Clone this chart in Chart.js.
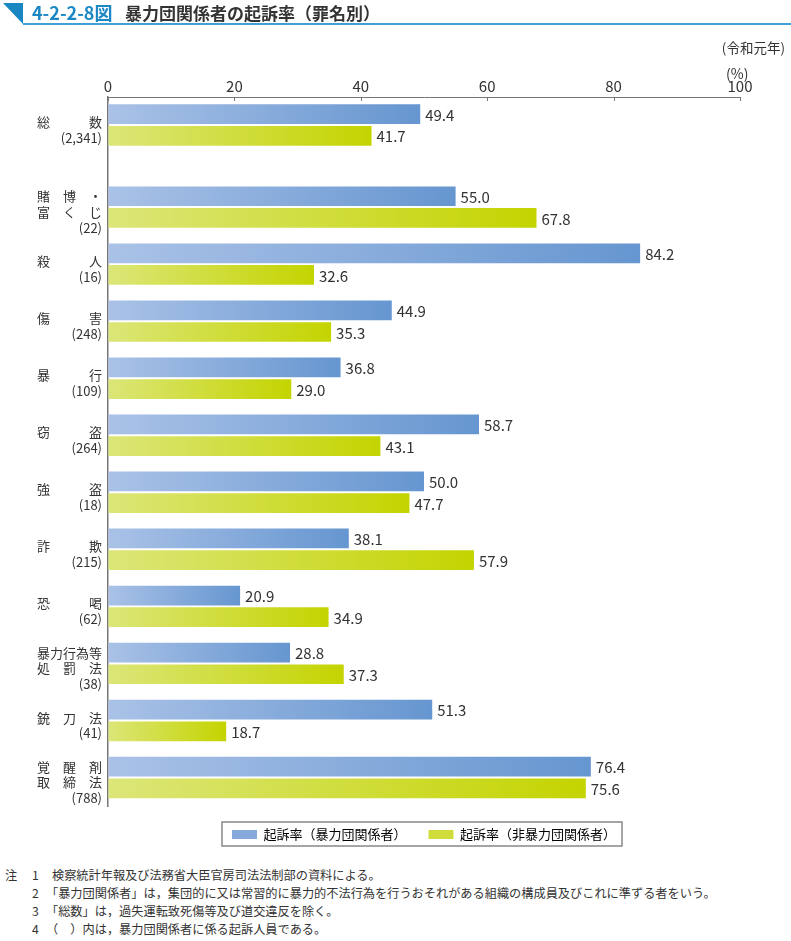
<!DOCTYPE html>
<html lang="ja">
<head>
<meta charset="utf-8">
<title>4-2-2-8図 暴力団関係者の起訴率（罪名別）</title>
<script src="https://cdn.jsdelivr.net/npm/chart.js@4.4.1/dist/chart.umd.min.js"></script>
<style>
  body { margin: 0; background: #fff; font-family: 'Noto Sans CJK JP', sans-serif; color: #333; }
  #page { position: relative; width: 791px; height: 941px; overflow: hidden; }
  #chart { position: absolute; left: 0; top: 0; }
  .tri { position: absolute; left: 3px; top: 3px; width: 20px; height: 21px; background: #1a86c2;
         clip-path: polygon(0 0, 100% 0, 100% 100%); }
  .rule { position: absolute; left: 23px; right: 0; top: 23px; height: 2px; background: #3d9fd5; }
  .fignum { position: absolute; left: 32px; top: 3px; font-size: 18px; line-height: 1; font-weight: bold; color: #1b88c5; }
  .title { position: absolute; left: 125px; top: 4px; font-size: 17px; line-height: 1; font-weight: bold; color: #333; }
  .year { position: absolute; right: 6px; top: 41px; font-size: 13.5px; line-height: 1; }
  .unit { position: absolute; left: 726px; top: 66px; font-size: 14px; line-height: 1; }
  .notes { position: absolute; left: 0; top: 866px; font-size: 12.2px; line-height: 18px; }
  .notes div { position: relative; height: 18px; white-space: nowrap; }
  .notes .mk { position: absolute; left: 5px; }
  .notes .no { position: absolute; left: 32px; }
  .notes .tx { position: absolute; left: 52px; }
  .notes .br { left: 46px; }
</style>
</head>
<body>
<div id="page">
  <canvas id="chart" width="791" height="851"></canvas>
  <div class="tri"></div>
  <div class="rule"></div>
  <div class="fignum">4-2-2-8図</div>
  <div class="title">暴力団関係者の起訴率（罪名別）</div>
  <div class="year">(令和元年)</div>
  <div class="unit">(%)</div>
  <div class="notes">
    <div><span class="mk">注</span><span class="no">1</span><span class="tx">検察統計年報及び法務省大臣官房司法法制部の資料による。</span></div>
    <div><span class="no">2</span><span class="tx br">「暴力団関係者」は，集団的に又は常習的に暴力的不法行為を行うおそれがある組織の構成員及びこれに準ずる者をいう。</span></div>
    <div><span class="no">3</span><span class="tx br">「総数」は，過失運転致死傷等及び道交違反を除く。</span></div>
    <div><span class="no">4</span><span class="tx br">（　）内は，暴力団関係者に係る起訴人員である。</span></div>
  </div>
</div>
<script>
const crimeNames = [
    ['総　　　数'], ['賭　博　・', '富　く　じ'], ['殺　　　人'], ['傷　　　害'],
    ['暴　　　行'], ['窃　　　盗'], ['強　　　盗'], ['詐　　　欺'], ['恐　　　喝'],
    ['暴力行為等', '処　罰　法'], ['銃　刀　法'], ['覚　醒　剤', '取　締　法']
];
const suspectCounts = ['2,341', '22', '16', '248', '109', '264', '18', '215', '62', '38', '41', '788'];
const yakuzaRates = [49.4, 55.0, 84.2, 44.9, 36.8, 58.7, 50.0, 38.1, 20.9, 28.8, 51.3, 76.4];
const otherRates = [41.7, 67.8, 32.6, 35.3, 29.0, 43.1, 47.7, 57.9, 34.9, 37.3, 18.7, 75.6];
const seriesNames = ['起訴率（暴力団関係者）', '起訴率（非暴力団関係者）'];
const xTicks = [0, 20, 40, 60, 80, 100];

// 総数 sits a bit apart from the other rows
const firstGap = 0.44;
const rowPos = crimeNames.map((n, i) => i === 0 ? 0 : i + firstGap);
const rowLabels = crimeNames.map((n, i) => n.concat('(' + suspectCounts[i] + ')'));

const swatch = ['#86a9dc', '#cfdc3c'];

function barFill(light, dark) {
    return function(c) {
        if (c.type !== 'data' || !c.chart.chartArea) return dark;
        const xs = c.chart.scales.x;
        const x0 = xs.getPixelForValue(0);
        const x1 = xs.getPixelForValue(c.parsed.x);
        const g = c.chart.ctx.createLinearGradient(x0, 0, x1, 0);
        g.addColorStop(0, light);
        g.addColorStop(1, dark);
        return g;
    };
}

const valueLabels = {
    id: 'valueLabels',
    afterDatasetsDraw(chart) {
        const ctx = chart.ctx;
        ctx.save();
        ctx.font = '15px "Noto Sans CJK JP"';
        ctx.fillStyle = '#333';
        ctx.textBaseline = 'middle';
        chart.data.datasets.forEach((ds, di) => {
            chart.getDatasetMeta(di).data.forEach((bar, i) => {
                ctx.fillText(ds.data[i].x.toFixed(1), bar.x + 5, bar.y + 1);
            });
        });
        ctx.restore();
    }
};

// small tick marks pointing down into the plot
const innerTicks = {
    id: 'innerTicks',
    afterDraw(chart) {
        const ctx = chart.ctx;
        const xs = chart.scales.x;
        const top = chart.chartArea.top;
        ctx.save();
        ctx.strokeStyle = '#777';
        ctx.lineWidth = 1;
        ctx.beginPath();
        xs.ticks.forEach(t => {
            const px = Math.round(xs.getPixelForValue(t.value)) + 0.5;
            ctx.moveTo(px, top);
            ctx.lineTo(px, top + 4);
        });
        ctx.stroke();
        ctx.restore();
    }
};

const legendFrame = {
    id: 'legendFrame',
    afterDraw(chart) {
        const boxes = chart.legend.legendHitBoxes;
        if (!boxes || !boxes.length) return;
        const first = boxes[0], last = boxes[boxes.length - 1];
        const ctx = chart.ctx;
        ctx.save();
        ctx.strokeStyle = '#888';
        ctx.lineWidth = 1.5;
        ctx.strokeRect(first.left - 10, first.top - 6, last.left + last.width + 6 - (first.left - 10), first.height + 11);
        ctx.restore();
    }
};

Chart.defaults.font.family = '"Noto Sans CJK JP", sans-serif';

new Chart(document.getElementById('chart').getContext('2d'), {
    type: 'bar',
    data: {
        datasets: [{
            label: seriesNames[0],
            data: yakuzaRates.map((v, i) => ({ x: v, y: rowPos[i] })),
            backgroundColor: barFill('#aac2e7', '#6696d0'),
            barPercentage: 0.91,
            categoryPercentage: 0.76
        }, {
            label: seriesNames[1],
            data: otherRates.map((v, i) => ({ x: v, y: rowPos[i] })),
            backgroundColor: barFill('#dce679', '#c4d400'),
            barPercentage: 0.91,
            categoryPercentage: 0.76
        }]
    },
    options: {
        indexAxis: 'y',
        responsive: false,
        animation: false,
        layout: { padding: { top: 67, right: 51, left: 0, bottom: 0 } },
        scales: {
            x: {
                type: 'linear',
                position: 'top',
                min: 0,
                max: 100,
                afterBuildTicks: axis => { axis.ticks = xTicks.map(v => ({ value: v })); },
                afterFit: axis => { axis.height = 30; },
                grid: { drawOnChartArea: false, drawTicks: false },
                border: { color: '#777', width: 1 },
                ticks: { padding: 2, color: '#333', font: { size: 15 } }
            },
            y: {
                type: 'linear',
                reverse: true,
                offset: false,
                min: -0.49,
                max: rowPos[rowPos.length - 1] + 0.5,
                afterBuildTicks: axis => { axis.ticks = rowPos.map(v => ({ value: v })); },
                afterFit: axis => { axis.width = 108; },
                grid: { display: false, drawTicks: false, offset: false },
                border: { display: true, color: '#777', width: 1.5 },
                ticks: {
                    autoSkip: false,
                    padding: 6,
                    labelOffset: 5,
                    color: '#333',
                    font: { size: 13, lineHeight: 1.2 },
                    callback: (value, index) => rowLabels[index]
                }
            }
        },
        plugins: {
            tooltip: { enabled: false },
            legend: {
                position: 'bottom',
                fullSize: false,
                labels: {
                    boxWidth: 25,
                    boxHeight: 9,
                    padding: 22,
                    color: '#333',
                    font: { size: 13 },
                    generateLabels: chart => chart.data.datasets.map((ds, i) => ({
                        text: ds.label,
                        fillStyle: swatch[i],
                        strokeStyle: swatch[i],
                        lineWidth: 0,
                        hidden: false,
                        datasetIndex: i
                    }))
                }
            }
        }
    },
    plugins: [valueLabels, innerTicks, legendFrame]
});
</script>
</body>
</html>
